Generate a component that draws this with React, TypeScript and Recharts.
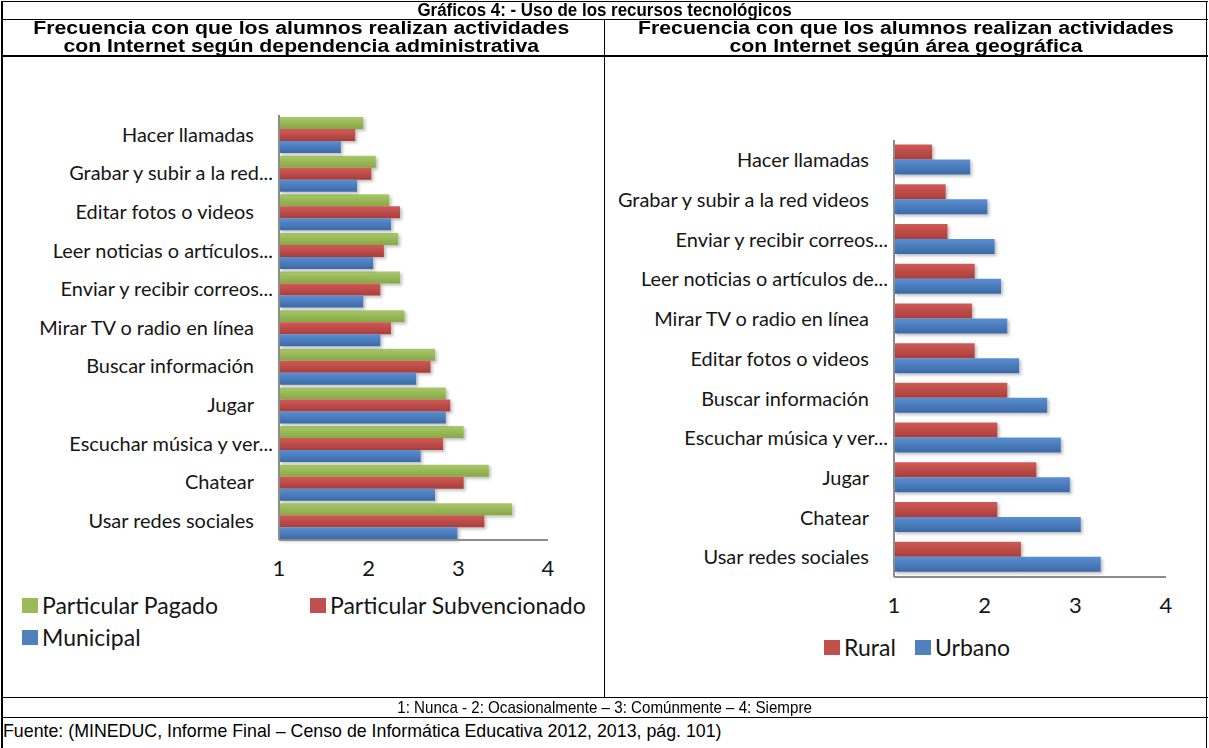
import React from 'react'
import { BarChart, Bar, XAxis, YAxis } from 'recharts'

// categorias, en el orden en que se leen de arriba a abajo
const catDependencia = [
  'Hacer llamadas',
  'Grabar y subir a la red...',
  'Editar fotos o videos',
  'Leer noticias o artículos...',
  'Enviar y recibir correos...',
  'Mirar TV o radio en línea',
  'Buscar información',
  'Jugar',
  'Escuchar música y ver...',
  'Chatear',
  'Usar redes sociales',
]
const pagado = [1.94, 2.08, 2.23, 2.33, 2.35, 2.4, 2.74, 2.86, 3.06, 3.34, 3.6]
const subvencionado = [1.85, 2.03, 2.35, 2.17, 2.13, 2.25, 2.69, 2.91, 2.83, 3.06, 3.29]
const municipal = [1.69, 1.87, 2.25, 2.05, 1.94, 2.13, 2.53, 2.86, 2.58, 2.74, 2.99]

const catArea = [
  'Hacer llamadas',
  'Grabar y subir a la red videos',
  'Enviar y recibir correos...',
  'Leer noticias o artículos de...',
  'Mirar TV o radio en línea',
  'Editar fotos o videos',
  'Buscar información',
  'Escuchar música y ver...',
  'Jugar',
  'Chatear',
  'Usar redes sociales',
]
const rural = [1.42, 1.57, 1.59, 1.89, 1.86, 1.89, 2.25, 2.14, 2.57, 2.14, 2.4]
const urbano = [1.84, 2.03, 2.11, 2.18, 2.25, 2.38, 2.69, 2.84, 2.94, 3.06, 3.28]

const escala = [1, 2, 3, 4]

const dataDep = catDependencia.map((name, i) => ({
  name,
  pagado: pagado[i],
  subvencionado: subvencionado[i],
  municipal: municipal[i],
}))
const dataArea = catArea.map((name, i) => ({ name, rural: rural[i], urbano: urbano[i] }))

const font = 'Lato, "Open Sans", sans-serif'
const GREEN = '#9bbb59'
const RED = '#c0504d'
const BLUE = '#4f81bd'

const CatTick = (props: any) => {
  const { x, y, payload } = props
  const cut = payload.value.endsWith('...')
  const tx = x + (cut ? 2 : -17)
  return (
    <g transform={`translate(${tx},${y}) scale(1.05,1)`}>
      <text x={0} y={0} textAnchor="end" dominantBaseline="central" fontFamily={font} fontSize={19} fill="#151515">
        {payload.value}
      </text>
    </g>
  )
}

const Grads = () => (
  <defs>
    <linearGradient id="gG" x1="0" y1="0" x2="0" y2="1">
      <stop offset="0" stopColor="#a8c86a" />
      <stop offset="1" stopColor="#87a845" />
    </linearGradient>
    <linearGradient id="gR" x1="0" y1="0" x2="0" y2="1">
      <stop offset="0" stopColor="#d05a56" />
      <stop offset="1" stopColor="#a83e3b" />
    </linearGradient>
    <linearGradient id="gB" x1="0" y1="0" x2="0" y2="1">
      <stop offset="0" stopColor="#5a8fd2" />
      <stop offset="1" stopColor="#3b69a6" />
    </linearGradient>
    <filter id="sh" x="-5%" y="-20%" width="115%" height="160%">
      <feDropShadow dx="2" dy="2" stdDeviation="1.5" floodColor="#000" floodOpacity="0.25" />
    </filter>
  </defs>
)

const Swatch = ({ color, label, x, y }: { color: string; label: string; x: number; y: number }) => (
  <div style={{ position: 'absolute', left: x, top: y, display: 'flex', alignItems: 'center', whiteSpace: 'nowrap' }}>
    <span style={{ width: 16, height: 15, background: color, marginRight: 4, display: 'inline-block' }} />
    <span style={{ fontFamily: font, fontSize: 23, color: '#151515' }}>{label}</span>
  </div>
)

const hline = (top: number, h = 1) => (
  <div style={{ position: 'absolute', left: 1, width: 1207, top, height: h, background: '#000' }} />
)

const axisTick = { fontFamily: font, fontSize: 22, fill: '#151515' }

const App = () => {
  return (
    <div style={{ position: 'fixed', left: 0, top: 0, width: 1209, height: 748, background: '#fff', fontFamily: '"Liberation Sans", Arial, sans-serif' }}>
      {hline(1)}
      {hline(19)}
      {hline(55, 2)}
      {hline(697)}
      {hline(717)}
      <div style={{ position: 'absolute', left: 1, top: 1, width: 2, height: 747, background: '#000' }} />
      <div style={{ position: 'absolute', left: 1206, top: 1, width: 1, height: 747, background: '#000' }} />
      <div style={{ position: 'absolute', left: 604, top: 19, width: 1, height: 679, background: '#000' }} />

      <div style={{ position: 'absolute', left: 0, top: 1, width: 1209, textAlign: 'center', fontWeight: 'bold', fontSize: 18, lineHeight: '18px', transform: 'scaleX(0.94)', transformOrigin: '605px 0' }}>
        Gráficos 4: - Uso de los recursos tecnológicos
      </div>
      <div style={{ position: 'absolute', left: 0, top: 19, width: 604, textAlign: 'center', fontWeight: 'bold', fontSize: 18, lineHeight: '18px', transform: 'scaleX(1.18)', transformOrigin: '306px 0' }}>
        Frecuencia con que los alumnos realizan actividades<br />con Internet según dependencia administrativa
      </div>
      <div style={{ position: 'absolute', left: 605, top: 19, width: 602, textAlign: 'center', fontWeight: 'bold', fontSize: 18, lineHeight: '18px', transform: 'scaleX(1.18)', transformOrigin: '301px 0' }}>
        Frecuencia con que los alumnos realizan actividades<br />con Internet según área geográfica
      </div>
      <div style={{ position: 'absolute', left: 0, top: 698, width: 1209, textAlign: 'center', fontSize: 17, lineHeight: '19px', transform: 'scaleX(0.89)', transformOrigin: '605px 0' }}>
        1: Nunca - 2: Ocasionalmente – 3: Comúnmente – 4: Siempre
      </div>
      <div style={{ position: 'absolute', left: 3, top: 721, fontSize: 17.8, lineHeight: '20px' }}>
        Fuente: (MINEDUC, Informe Final – Censo de Informática Educativa 2012, 2013, pág. 101)
      </div>

      <div style={{ position: 'absolute', left: 0, top: 60 }}>
        <BarChart
          width={600}
          height={630}
          data={dataDep}
          layout="vertical"
          margin={{ top: 55, right: 52, bottom: 110, left: 0 }}
          barCategoryGap={2}
          barGap={0}
        >
          <Grads />
          <XAxis
            type="number"
            domain={[1, 4]}
            ticks={escala}
            axisLine={{ stroke: '#8c8c8c', strokeWidth: 2 }}
            tickLine={false}
            tickMargin={14}
            height={40}
            tick={axisTick}
          />
          <YAxis
            type="category"
            dataKey="name"
            width={279}
            axisLine={{ stroke: '#8c8c8c', strokeWidth: 2 }}
            tickLine={false}
            tick={<CatTick />}
            interval={0}
          />
          <Bar dataKey="pagado" name="Particular Pagado" fill="url(#gG)" filter="url(#sh)" isAnimationActive={false} />
          <Bar dataKey="subvencionado" name="Particular Subvencionado" fill="url(#gR)" filter="url(#sh)" isAnimationActive={false} />
          <Bar dataKey="municipal" name="Municipal" fill="url(#gB)" filter="url(#sh)" isAnimationActive={false} />
        </BarChart>
      </div>
      <Swatch color={GREEN} label="Particular Pagado" x={22} y={591} />
      <Swatch color={RED} label="Particular Subvencionado" x={310} y={591} />
      <Swatch color={BLUE} label="Municipal" x={22} y={623} />

      <div style={{ position: 'absolute', left: 605, top: 60 }}>
        <BarChart
          width={600}
          height={630}
          data={dataArea}
          layout="vertical"
          margin={{ top: 80, right: 39, bottom: 73, left: 0 }}
          barCategoryGap={4.5}
          barGap={0}
        >
          <Grads />
          <XAxis
            type="number"
            domain={[1, 4]}
            ticks={escala}
            axisLine={{ stroke: '#8c8c8c', strokeWidth: 2 }}
            tickLine={false}
            tickMargin={14}
            height={40}
            tick={axisTick}
          />
          <YAxis
            type="category"
            dataKey="name"
            width={289}
            axisLine={{ stroke: '#8c8c8c', strokeWidth: 2 }}
            tickLine={false}
            tick={<CatTick />}
            interval={0}
          />
          <Bar dataKey="rural" name="Rural" fill="url(#gR)" filter="url(#sh)" isAnimationActive={false} />
          <Bar dataKey="urbano" name="Urbano" fill="url(#gB)" filter="url(#sh)" isAnimationActive={false} />
        </BarChart>
      </div>
      <Swatch color={RED} label="Rural" x={824} y={633} />
      <Swatch color={BLUE} label="Urbano" x={915} y={633} />
    </div>
  )
}

export default App
